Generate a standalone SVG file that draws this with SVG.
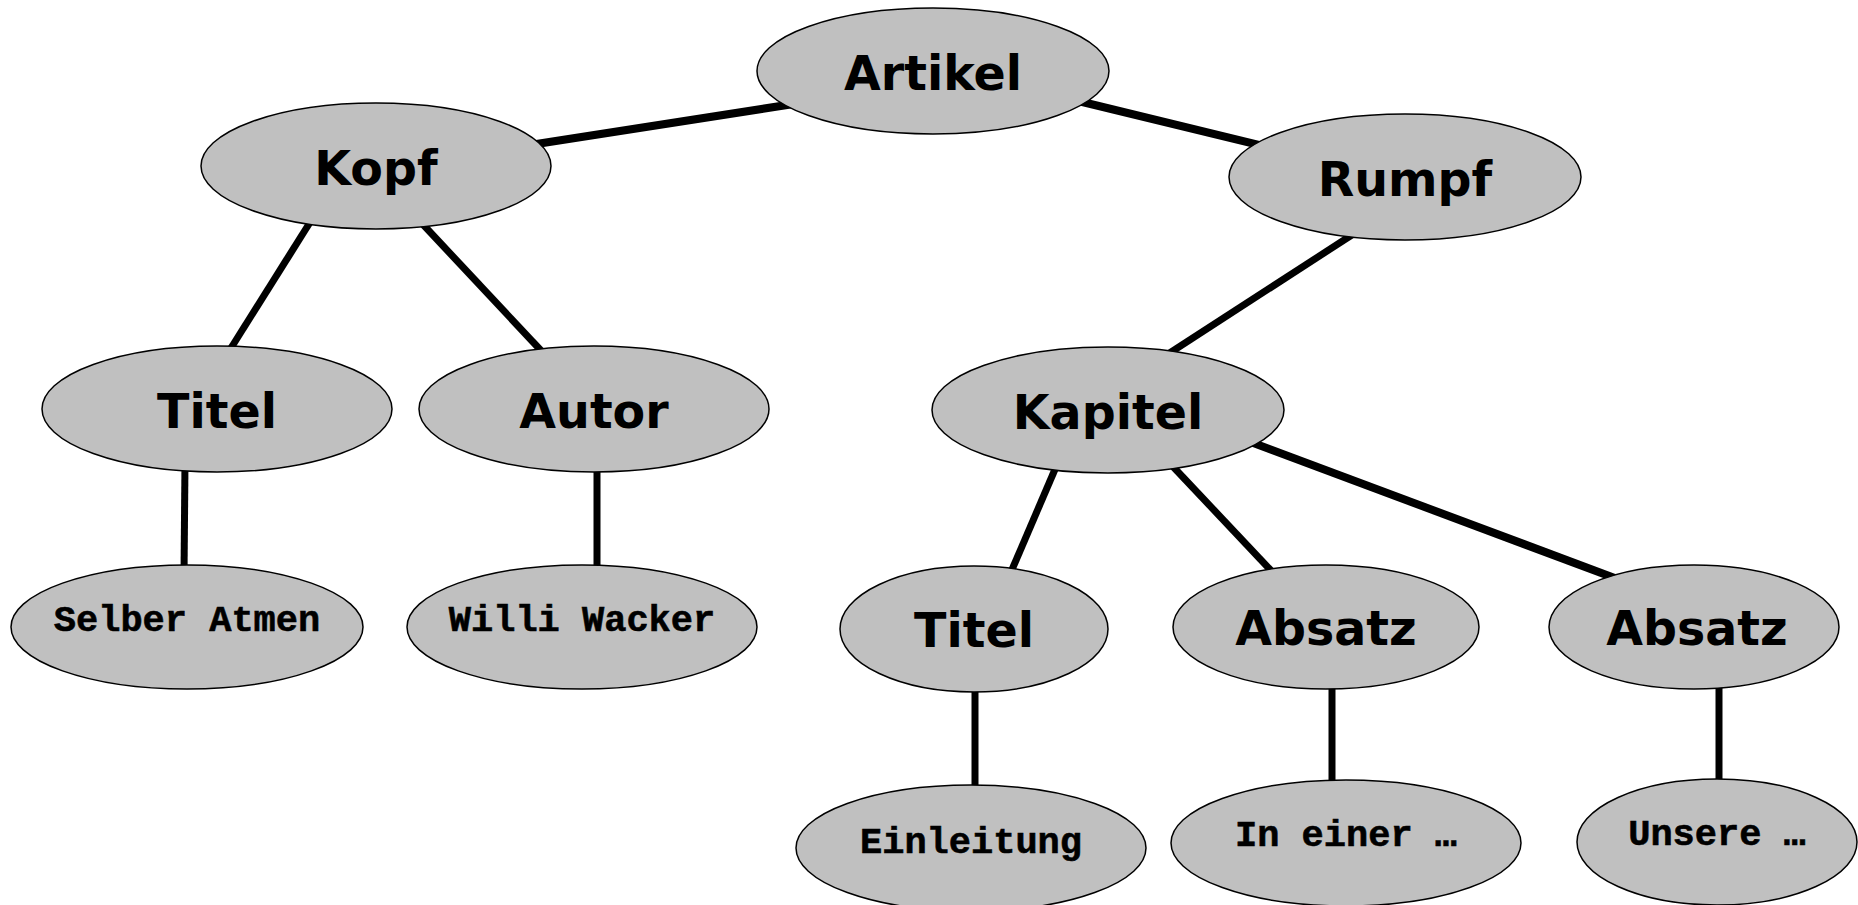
<svg xmlns="http://www.w3.org/2000/svg" width="1858" height="905" viewBox="0 0 1858 905">
<style>
.n{fill:#c0c0c0;stroke:#000;stroke-width:1.5}
.t{font-family:"DejaVu Sans","Liberation Sans",sans-serif;font-weight:bold;font-size:47.5px;text-anchor:middle;fill:#000}
.m{font-family:"Liberation Mono","Courier New",monospace;font-weight:bold;font-size:37px;text-anchor:middle;fill:#000;stroke:#000;stroke-width:0.6}
.c{stroke:#000;stroke-width:7;fill:none}
.k{stroke-width:8}
</style>
<rect width="1858" height="905" fill="#fff"/>
<g id="connectors">
<line class="c k" x1="800" y1="103" x2="530" y2="145"/>
<line class="c k" x1="1070" y1="99" x2="1272" y2="148"/>
<line class="c" x1="314" y1="216" x2="226" y2="356"/>
<line class="c" x1="416" y1="217" x2="548" y2="358"/>
<line class="c" x1="1358" y1="231" x2="1165" y2="356"/>
<line class="c" x1="1059" y1="460" x2="1008" y2="579"/>
<line class="c" x1="1163" y1="456" x2="1279" y2="579"/>
<line class="c k" x1="1240" y1="438" x2="1620" y2="580"/>
<line class="c" x1="185" y1="462" x2="184" y2="575"/>
<line class="c" x1="597" y1="462" x2="597" y2="575"/>
<line class="c" x1="975" y1="682" x2="975" y2="795"/>
<line class="c" x1="1332" y1="679" x2="1332" y2="790"/>
<line class="c" x1="1719" y1="679" x2="1719" y2="789"/>
</g>
<g id="artikel"><ellipse class="n" cx="933" cy="71" rx="176" ry="63"/><text class="t" x="933" y="90">Artikel</text></g>
<g id="kopf"><ellipse class="n" cx="376" cy="166" rx="175" ry="63"/><text class="t" x="376" y="185">Kopf</text></g>
<g id="rumpf"><ellipse class="n" cx="1405" cy="177" rx="176" ry="63"/><text class="t" x="1405" y="196">Rumpf</text></g>
<g id="titel1"><ellipse class="n" cx="217" cy="409" rx="175" ry="63"/><text class="t" x="217" y="428">Titel</text></g>
<g id="autor"><ellipse class="n" cx="594" cy="409" rx="175" ry="63"/><text class="t" x="594" y="428">Autor</text></g>
<g id="kapitel"><ellipse class="n" cx="1108" cy="410" rx="176" ry="63"/><text class="t" x="1108" y="429">Kapitel</text></g>
<g id="selber"><ellipse class="n" cx="187" cy="627" rx="176" ry="62"/><text class="m" x="187" y="631">Selber Atmen</text></g>
<g id="willi"><ellipse class="n" cx="582" cy="627" rx="175" ry="62"/><text class="m" x="582" y="631">Willi Wacker</text></g>
<g id="titel2"><ellipse class="n" cx="974" cy="629" rx="134" ry="63"/><text class="t" x="974" y="647">Titel</text></g>
<g id="absatz1"><ellipse class="n" cx="1326" cy="627" rx="153" ry="62"/><text class="t" x="1326" y="645">Absatz</text></g>
<g id="absatz2"><ellipse class="n" cx="1694" cy="627" rx="145" ry="62"/><text class="t" x="1697" y="645">Absatz</text></g>
<g id="einleitung"><ellipse class="n" cx="971" cy="848" rx="175" ry="63"/><text class="m" x="971" y="853">Einleitung</text></g>
<g id="ineiner"><ellipse class="n" cx="1346" cy="843" rx="175" ry="63"/><text class="m" x="1346" y="846">In einer …</text></g>
<g id="unsere"><ellipse class="n" cx="1717" cy="842" rx="140" ry="63"/><text class="m" x="1717" y="845">Unsere …</text></g>
</svg>
